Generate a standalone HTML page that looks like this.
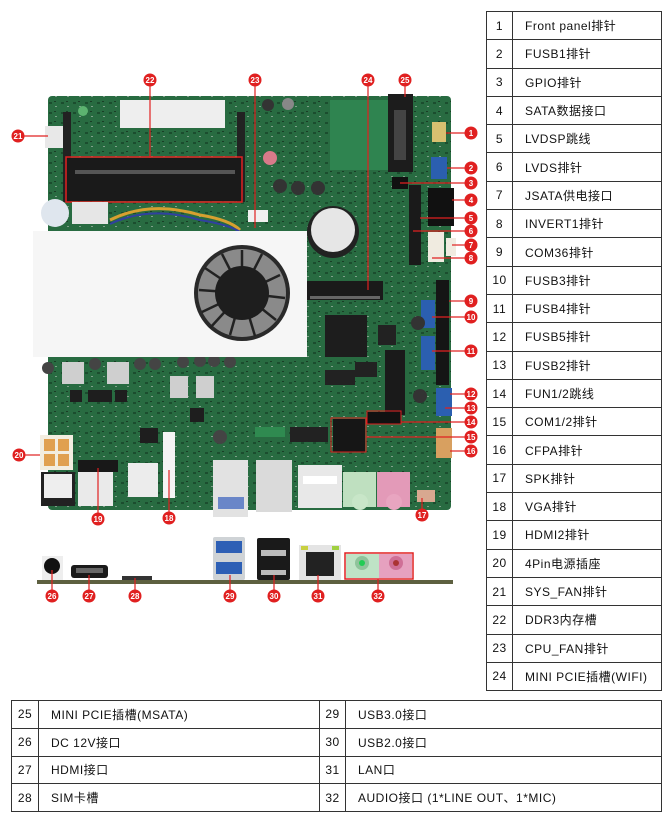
<!DOCTYPE html>
<html><head><meta charset="utf-8">
<style>
html,body{margin:0;padding:0;background:#fff;}
body{width:672px;height:820px;position:relative;overflow:hidden;font-family:"Liberation Sans","Noto Sans CJK SC",sans-serif;}
svg{position:absolute;left:0;top:0;}
.t{position:absolute;border-collapse:collapse;font-size:12px;color:#111;letter-spacing:0.5px;}
.t td{border:1.5px solid #333;padding:0;height:26.8px;}
.r td{height:27.3px;}
.t td.n{text-align:center;}
.t td.x{padding-left:12px;}
</style></head><body>
<svg width="672" height="820" viewBox="0 0 672 820">
<defs>
<pattern id="tex" width="12" height="10" patternUnits="userSpaceOnUse">
<rect width="12" height="10" fill="#286b41"/>
<rect x="1" y="2" width="3" height="2" fill="#1b4d2e"/>
<rect x="7" y="6" width="2" height="1" fill="#7fa08a"/>
<rect x="6" y="1" width="2" height="1" fill="#1a3d26"/>
</pattern>
</defs>
<rect x="48" y="96" width="403" height="414" rx="4" fill="url(#tex)"/>
<rect x="330" y="100" width="80" height="70" fill="#2f8450"/>
<rect x="120" y="100" width="105" height="28" fill="#eeeeee"/>
<rect x="78" y="106" width="10" height="10" rx="5" fill="#5cb370"/>
<rect x="63" y="112" width="8" height="90" fill="#222"/>
<rect x="237" y="112" width="8" height="90" fill="#222"/>
<rect x="67" y="158" width="174" height="43" fill="#1a1a1a"/>
<rect x="75" y="170" width="160" height="4" fill="#555"/>
<rect x="66" y="157" width="176" height="45" fill="none" stroke="#e02020" stroke-width="1.5"/>
<rect x="45" y="126" width="18" height="22" fill="#e8e8e8"/>
<rect x="72" y="202" width="36" height="22" fill="#e6e6e6"/>
<circle cx="55" cy="213" r="14" fill="#dfe6ee"/>
<rect x="248" y="210" width="20" height="12" fill="#f0f0f0"/>
<path d="M110 220 Q150 200 200 215 Q230 220 240 230" stroke="#d6a030" stroke-width="3" fill="none"/>
<path d="M110 224 Q150 205 200 220 Q230 225 240 232" stroke="#3040a0" stroke-width="2" fill="none"/>
<g fill="#333"><circle cx="280" cy="186" r="7"/><circle cx="298" cy="188" r="7"/><circle cx="318" cy="188" r="7"/><circle cx="268" cy="105" r="6"/><circle cx="288" cy="104" r="6" fill="#888"/></g>
<circle cx="270" cy="158" r="7" fill="#d87a8a"/>
<circle cx="333" cy="232" r="26" fill="#222"/>
<circle cx="333" cy="230" r="22" fill="#e6e6e6"/>
<rect x="388" y="94" width="25" height="78" fill="#1c1c1c"/>
<rect x="394" y="110" width="12" height="50" fill="#444"/>
<rect x="432" y="122" width="14" height="20" fill="#d8c070"/>
<rect x="431" y="157" width="16" height="22" fill="#2b5fb0"/>
<rect x="392" y="177" width="16" height="12" fill="#111"/>
<rect x="409" y="185" width="12" height="80" fill="#1a1a1a"/>
<rect x="428" y="188" width="26" height="38" fill="#111"/>
<rect x="428" y="232" width="16" height="30" fill="#f0ebe0"/>
<rect x="446" y="238" width="10" height="18" fill="#f0ebe0"/>
<rect x="436" y="280" width="13" height="105" fill="#151515"/>
<rect x="421" y="300" width="14" height="28" fill="#2b5fb0"/>
<rect x="421" y="336" width="14" height="34" fill="#2b5fb0"/>
<rect x="436" y="388" width="16" height="28" fill="#2b5fb0"/>
<rect x="436" y="428" width="16" height="30" fill="#d8a060"/>
<rect x="378" y="325" width="18" height="20" fill="#222"/>
<circle cx="418" cy="323" r="7" fill="#333"/>
<circle cx="420" cy="396" r="7" fill="#333"/>
<rect x="325" y="315" width="42" height="42" fill="#1d1d1d"/>
<rect x="385" y="350" width="20" height="65" fill="#1a1a1a"/>
<rect x="325" y="370" width="30" height="15" fill="#222"/>
<rect x="355" y="362" width="22" height="15" fill="#222"/>
<rect x="290" y="427" width="38" height="15" fill="#222"/>
<rect x="255" y="427" width="30" height="10" fill="#2f8a50"/>
<rect x="307" y="281" width="76" height="19" fill="#1a1a1a"/>
<rect x="310" y="296" width="70" height="3" fill="#666"/>
<rect x="367" y="412" width="34" height="12" fill="#111"/>
<rect x="367" y="411" width="34" height="13" fill="none" stroke="#e02020" stroke-width="1"/>
<rect x="333" y="419" width="32" height="33" fill="#161616"/>
<rect x="331" y="418" width="35" height="34" fill="none" stroke="#e02020" stroke-width="1"/>
<g fill="#cfcfcf"><rect x="62" y="362" width="22" height="22"/><rect x="107" y="362" width="22" height="22"/><rect x="170" y="376" width="18" height="22"/><rect x="196" y="376" width="18" height="22"/></g>
<g fill="#444"><circle cx="48" cy="368" r="6"/><circle cx="95" cy="364" r="6"/><circle cx="140" cy="364" r="6"/><circle cx="155" cy="364" r="6"/><circle cx="183" cy="362" r="6"/><circle cx="200" cy="361" r="6"/><circle cx="214" cy="361" r="6"/><circle cx="230" cy="362" r="6"/><circle cx="220" cy="437" r="7"/></g>
<g fill="#1e1e1e"><rect x="70" y="390" width="12" height="12"/><rect x="88" y="390" width="12" height="12"/><rect x="100" y="390" width="12" height="12"/><rect x="115" y="390" width="12" height="12"/><rect x="140" y="428" width="18" height="15"/><rect x="190" y="408" width="14" height="14"/></g>
<rect x="33" y="231" width="274" height="126" fill="#f6f6f6"/>
<circle cx="242" cy="293" r="48" fill="#2a2a2a"/>
<circle cx="242" cy="293" r="44" fill="#8a8a8a"/>
<g stroke="#222" stroke-width="2.5">
<line x1="242" y1="293" x2="242" y2="250"/><line x1="242" y1="293" x2="280" y2="275"/><line x1="242" y1="293" x2="276" y2="320"/><line x1="242" y1="293" x2="230" y2="335"/><line x1="242" y1="293" x2="202" y2="312"/><line x1="242" y1="293" x2="205" y2="268"/>
<line x1="242" y1="293" x2="262" y2="254"/><line x1="242" y1="293" x2="285" y2="298"/><line x1="242" y1="293" x2="255" y2="336"/><line x1="242" y1="293" x2="210" y2="328"/><line x1="242" y1="293" x2="199" y2="290"/><line x1="242" y1="293" x2="222" y2="254"/>
</g>
<circle cx="242" cy="293" r="27" fill="#1e1e1e"/>
<rect x="40" y="435" width="33" height="35" fill="#f2ede0"/>
<g fill="#e0a050"><rect x="44" y="439" width="11" height="12"/><rect x="58" y="439" width="11" height="12"/><rect x="44" y="454" width="11" height="12"/><rect x="58" y="454" width="11" height="12"/></g>
<rect x="41" y="472" width="34" height="34" fill="#222"/>
<rect x="44" y="474" width="28" height="24" fill="#eee"/>
<rect x="78" y="460" width="40" height="12" fill="#181818"/>
<rect x="78" y="472" width="35" height="34" fill="#eaeaea"/>
<rect x="128" y="463" width="30" height="34" fill="#ececec"/>
<rect x="163" y="432" width="12" height="66" fill="#f4f4f4"/>
<rect x="213" y="460" width="35" height="57" fill="#e2e2e2"/>
<rect x="218" y="497" width="26" height="12" fill="#6a86c8"/>
<rect x="256" y="460" width="36" height="52" fill="#dadada"/>
<rect x="298" y="465" width="44" height="43" fill="#e8e8e8"/>
<rect x="303" y="476" width="34" height="8" fill="#fff"/>
<rect x="343" y="472" width="33" height="35" fill="#bfe0c0"/>
<circle cx="360" cy="502" r="8" fill="#c8e6c8"/>
<rect x="377" y="472" width="33" height="35" fill="#e39ab8"/>
<circle cx="394" cy="502" r="8" fill="#e8a5c0"/>
<rect x="417" y="490" width="18" height="12" fill="#d8a890"/>
<rect x="37" y="580" width="416" height="4" fill="#5d6040"/>
<rect x="42" y="556" width="21" height="24" fill="#eee"/>
<circle cx="52" cy="566" r="8" fill="#111"/>
<rect x="71" y="565" width="37" height="13" rx="3" fill="#1a1a1a"/>
<rect x="76" y="568" width="27" height="5" fill="#666"/>
<rect x="122" y="576" width="30" height="4" fill="#333"/>
<rect x="213" y="537" width="32" height="43" rx="2" fill="#cfd3d6"/>
<rect x="216" y="541" width="26" height="12" fill="#2d5fb5"/>
<rect x="216" y="562" width="26" height="12" fill="#2d5fb5"/>
<rect x="257" y="538" width="33" height="42" rx="2" fill="#1a1a1a"/>
<rect x="261" y="550" width="25" height="6" fill="#bbb"/>
<rect x="261" y="570" width="25" height="5" fill="#bbb"/>
<rect x="299" y="545" width="42" height="35" fill="#e4e4e4"/>
<rect x="306" y="552" width="28" height="24" fill="#222"/>
<rect x="301" y="546" width="7" height="4" fill="#c8d040"/>
<rect x="332" y="546" width="7" height="4" fill="#a0d040"/>
<rect x="346" y="554" width="33" height="24" fill="#bfe3c6"/>
<circle cx="362" cy="563" r="7" fill="#8fc39b"/><circle cx="362" cy="563" r="3" fill="#2c5"/>
<rect x="379" y="554" width="33" height="24" fill="#e6a1bf"/>
<circle cx="396" cy="563" r="7" fill="#cf6f96"/><circle cx="396" cy="563" r="3" fill="#a33"/>
<rect x="345" y="553" width="68" height="26" fill="none" stroke="#e02020" stroke-width="1.5"/>
<g stroke="#e02020" stroke-width="1.2">
<line x1="150" y1="86" x2="150" y2="158"/><line x1="255" y1="86" x2="255" y2="228"/><line x1="368" y1="86" x2="368" y2="290"/><line x1="405" y1="86" x2="405" y2="97"/>
<line x1="23" y1="136" x2="48" y2="136"/>
<line x1="465" y1="133" x2="446" y2="133"/><line x1="465" y1="168" x2="447" y2="168"/><line x1="465" y1="183" x2="400" y2="183"/><line x1="465" y1="200" x2="452" y2="200"/><line x1="465" y1="218" x2="420" y2="218"/><line x1="465" y1="231" x2="413" y2="231"/><line x1="465" y1="245" x2="452" y2="245"/><line x1="465" y1="258" x2="432" y2="258"/><line x1="465" y1="301" x2="449" y2="301"/><line x1="465" y1="317" x2="432" y2="317"/><line x1="465" y1="351" x2="432" y2="351"/><line x1="465" y1="394" x2="450" y2="394"/><line x1="465" y1="408" x2="445" y2="408"/><line x1="465" y1="422" x2="401" y2="422"/><line x1="465" y1="437" x2="366" y2="437"/><line x1="465" y1="451" x2="450" y2="451"/>
<line x1="422" y1="509" x2="422" y2="498"/><line x1="169" y1="512" x2="169" y2="470"/><line x1="98" y1="513" x2="98" y2="468"/><line x1="25" y1="455" x2="40" y2="455"/>
<line x1="52" y1="590" x2="52" y2="570"/><line x1="89" y1="590" x2="89" y2="575"/><line x1="135" y1="590" x2="135" y2="578"/><line x1="230" y1="590" x2="230" y2="575"/><line x1="274" y1="590" x2="274" y2="575"/><line x1="318" y1="590" x2="318" y2="575"/><line x1="378" y1="590" x2="378" y2="579"/>
</g>
<g font-family="Liberation Sans, sans-serif" font-size="8" font-weight="bold" fill="#fff" text-anchor="middle">
<g fill="#e02020" stroke="none">
<circle cx="150" cy="80" r="6.5"/><circle cx="255" cy="80" r="6.5"/><circle cx="368" cy="80" r="6.5"/><circle cx="405" cy="80" r="6.5"/><circle cx="18" cy="136" r="6.5"/>
<circle cx="471" cy="133" r="6.5"/><circle cx="471" cy="168" r="6.5"/><circle cx="471" cy="183" r="6.5"/><circle cx="471" cy="200" r="6.5"/><circle cx="471" cy="218" r="6.5"/><circle cx="471" cy="231" r="6.5"/><circle cx="471" cy="245" r="6.5"/><circle cx="471" cy="258" r="6.5"/><circle cx="471" cy="301" r="6.5"/><circle cx="471" cy="317" r="6.5"/><circle cx="471" cy="351" r="6.5"/><circle cx="471" cy="394" r="6.5"/><circle cx="471" cy="408" r="6.5"/><circle cx="471" cy="422" r="6.5"/><circle cx="471" cy="437" r="6.5"/><circle cx="471" cy="451" r="6.5"/>
<circle cx="422" cy="515" r="6.5"/><circle cx="169" cy="518" r="6.5"/><circle cx="98" cy="519" r="6.5"/><circle cx="19" cy="455" r="6.5"/>
<circle cx="52" cy="596" r="6.5"/><circle cx="89" cy="596" r="6.5"/><circle cx="135" cy="596" r="6.5"/><circle cx="230" cy="596" r="6.5"/><circle cx="274" cy="596" r="6.5"/><circle cx="318" cy="596" r="6.5"/><circle cx="378" cy="596" r="6.5"/>
</g>
<text x="150" y="83">22</text><text x="255" y="83">23</text><text x="368" y="83">24</text><text x="405" y="83">25</text><text x="18" y="139">21</text>
<text x="471" y="136">1</text><text x="471" y="171">2</text><text x="471" y="186">3</text><text x="471" y="203">4</text><text x="471" y="221">5</text><text x="471" y="234">6</text><text x="471" y="248">7</text><text x="471" y="261">8</text><text x="471" y="304">9</text><text x="471" y="320">10</text><text x="471" y="354">11</text><text x="471" y="397">12</text><text x="471" y="411">13</text><text x="471" y="425">14</text><text x="471" y="440">15</text><text x="471" y="454">16</text>
<text x="422" y="518">17</text><text x="169" y="521">18</text><text x="98" y="522">19</text><text x="19" y="458">20</text>
<text x="52" y="599">26</text><text x="89" y="599">27</text><text x="135" y="599">28</text><text x="230" y="599">29</text><text x="274" y="599">30</text><text x="318" y="599">31</text><text x="378" y="599">32</text>
</g>
</svg>

<table class="t r" style="left:486px;top:11px;width:176px;">
<colgroup><col style="width:26px"><col></colgroup>
<tr><td class="n">1</td><td class="x">Front panel排针</td></tr>
<tr><td class="n">2</td><td class="x">FUSB1排针</td></tr>
<tr><td class="n">3</td><td class="x">GPIO排针</td></tr>
<tr><td class="n">4</td><td class="x">SATA数据接口</td></tr>
<tr><td class="n">5</td><td class="x">LVDSP跳线</td></tr>
<tr><td class="n">6</td><td class="x">LVDS排针</td></tr>
<tr><td class="n">7</td><td class="x">JSATA供电接口</td></tr>
<tr><td class="n">8</td><td class="x">INVERT1排针</td></tr>
<tr><td class="n">9</td><td class="x">COM36排针</td></tr>
<tr><td class="n">10</td><td class="x">FUSB3排针</td></tr>
<tr><td class="n">11</td><td class="x">FUSB4排针</td></tr>
<tr><td class="n">12</td><td class="x">FUSB5排针</td></tr>
<tr><td class="n">13</td><td class="x">FUSB2排针</td></tr>
<tr><td class="n">14</td><td class="x">FUN1/2跳线</td></tr>
<tr><td class="n">15</td><td class="x">COM1/2排针</td></tr>
<tr><td class="n">16</td><td class="x">CFPA排针</td></tr>
<tr><td class="n">17</td><td class="x">SPK排针</td></tr>
<tr><td class="n">18</td><td class="x">VGA排针</td></tr>
<tr><td class="n">19</td><td class="x">HDMI2排针</td></tr>
<tr><td class="n">20</td><td class="x">4Pin电源插座</td></tr>
<tr><td class="n">21</td><td class="x">SYS_FAN排针</td></tr>
<tr><td class="n">22</td><td class="x">DDR3内存槽</td></tr>
<tr><td class="n">23</td><td class="x">CPU_FAN排针</td></tr>
<tr><td class="n">24</td><td class="x">MINI PCIE插槽(WIFI)</td></tr>
</table>

<table class="t" style="left:11px;top:700px;width:651px;">
<colgroup><col style="width:27px"><col style="width:281px"><col style="width:26px"><col></colgroup>
<tr><td class="n">25</td><td class="x">MINI PCIE插槽(MSATA)</td><td class="n">29</td><td class="x">USB3.0接口</td></tr>
<tr><td class="n">26</td><td class="x">DC 12V接口</td><td class="n">30</td><td class="x">USB2.0接口</td></tr>
<tr><td class="n">27</td><td class="x">HDMI接口</td><td class="n">31</td><td class="x">LAN口</td></tr>
<tr><td class="n">28</td><td class="x">SIM卡槽</td><td class="n">32</td><td class="x">AUDIO接口 (1*LINE OUT、1*MIC)</td></tr>
</table>
</body></html>
